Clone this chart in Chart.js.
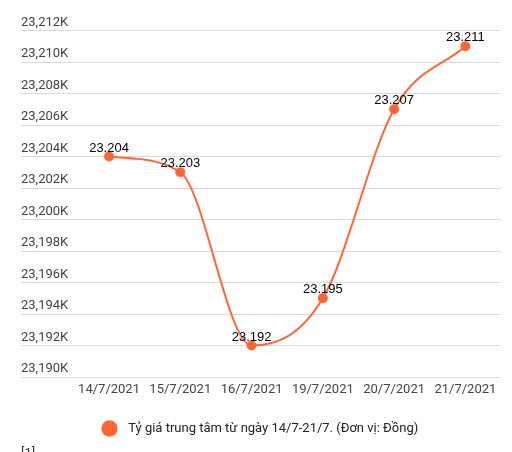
<!DOCTYPE html>
<html>
<head>
<meta charset="utf-8">
<script src="https://cdn.jsdelivr.net/npm/chart.js@4"></script>
<style>
html,body{margin:0;padding:0;background:#fff;overflow:hidden;}
#wrap{position:relative;width:512px;height:452px;overflow:hidden;}
#note{position:absolute;left:21px;top:445px;font:13px Roboto,sans-serif;color:#333;}
</style>
</head>
<body>
<div id="wrap">
<canvas id="c" width="512" height="452"></canvas>
<div id="note">[1]</div>
</div>
<script>
const categories = ['14/7/2021','15/7/2021','16/7/2021','19/7/2021','20/7/2021','21/7/2021'];
const rateValues = [23204, 23203, 23192, 23195, 23207, 23211];
const seriesName = 'Tỷ giá trung tâm từ ngày 14/7-21/7. (Đơn vị: Đồng)';
const yMin = 23190, yMax = 23212, yStep = 2;

const COLOR = '#ff6633';

const valueLabels = {
  id: 'valueLabels',
  afterDatasetsDraw(chart) {
    const ctx = chart.ctx;
    const meta = chart.getDatasetMeta(0);
    ctx.save();
    ctx.font = '13px "Liberation Sans", Arial, sans-serif';
    ctx.fillStyle = '#000';
    ctx.textAlign = 'center';
    ctx.textBaseline = 'alphabetic';
    meta.data.forEach((pt, i) => {
      const v = chart.data.datasets[0].data[i];
      const s = v.toLocaleString('de-DE');
      ctx.fillText(s, pt.x, pt.y - 5);
    });
    ctx.restore();
  }
};

new Chart(document.getElementById('c'), {
  type: 'line',
  data: {
    labels: categories,
    datasets: [{
      label: seriesName,
      data: rateValues,
      borderColor: COLOR,
      backgroundColor: COLOR,
      borderWidth: 2,
      pointRadius: 5,
      pointHoverRadius: 5,
      pointBorderWidth: 0,
      cubicInterpolationMode: 'monotone',
      fill: false
    }]
  },
  options: {
    responsive: false,
    animation: false,
    devicePixelRatio: 1,
    layout: { padding: { left: 21, right: 11, top: 30.5, bottom: 7 } },
    plugins: {
      legend: {
        position: 'bottom',
        labels: {
          usePointStyle: true,
          pointStyle: 'circle',
          boxWidth: 11.5,
          boxHeight: 11.5,
          color: '#222',
          font: { family: 'Roboto', size: 13 },
          generateLabels(chart) {
            const items = Chart.defaults.plugins.legend.labels.generateLabels(chart);
            items.forEach(it => { it.text = '  ' + it.text; });
            return items;
          }
        }
      },
      tooltip: { enabled: false }
    },
    scales: {
      x: {
        offset: true,
        grid: { display: false, drawTicks: false },
        border: { display: false },
        ticks: { color: '#444', font: { family: 'Roboto', size: 13 }, padding: 5, maxRotation: 0 },
        afterFit(scale) { scale.height = 35; }
      },
      y: {
        min: yMin, max: yMax,
        border: { display: false },
        grid: { color: '#dadada', lineWidth: 1, tickLength: 52.4, drawTicks: true },
        ticks: {
          stepSize: yStep,
          crossAlign: 'far',
          padding: 0,
          labelOffset: -8,
          color: '#444',
          font: { family: 'Roboto', size: 13 },
          callback: (v) => v.toLocaleString('en-US') + 'K'
        },
        afterFit(scale) { scale.width = 52.4; }
      }
    }
  },
  plugins: [valueLabels]
});
</script>
</body>
</html>
